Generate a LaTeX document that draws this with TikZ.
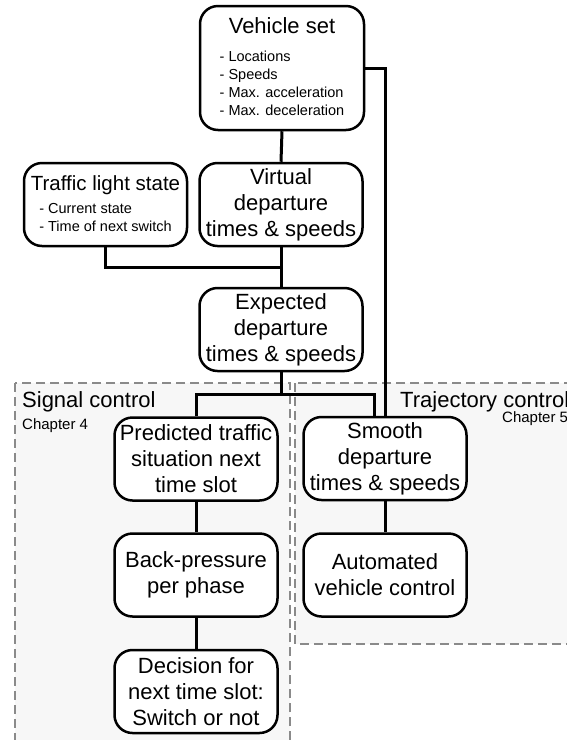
\documentclass[tikz,border=0pt]{standalone}
\usepackage{fontspec}
\setmainfont{Liberation Sans}
\usetikzlibrary{calc}
\definecolor{regionfill}{HTML}{F7F7F7}
\definecolor{regionline}{HTML}{8A8A8A}
\newcommand\itemfont{\fontsize{14.5}{18}\selectfont}
\newcommand\chapfont{\fontsize{15}{18}\selectfont}
\tikzset{
  box/.style={draw, line width=2.5pt, rounded corners=18pt, fill=white,
    minimum width=163pt, minimum height=83pt, inner sep=0pt, align=center,
    font=\fontsize{22}{26}\selectfont},
  link/.style={line width=3pt},
  region/.style={fill=regionfill, draw=regionline, line width=2pt,
    dash pattern=on 9pt off 5pt},
  regiontitle/.style={anchor=base west, inner sep=0pt,
    font=\fontsize{22}{26}\selectfont},
  chapter/.style={anchor=base west, inner sep=0pt, font=\chapfont}
}
\begin{document}
\begin{tikzpicture}[x=1pt,y=-1pt]
  \useasboundingbox (0,0) rectangle (567,740);
  \clip (0,0) rectangle (567,740);
  \draw[region] (15,383) rectangle (290,760);
  \draw[region] (295,383) rectangle (600,644);
  \node[regiontitle] (sigtitle) at (22,407) {Signal control};
  \node[chapter] (sigchap) at (22,429) {Chapter 4};
  \node[regiontitle] (trajtitle) at (400,407) {Trajectory control};
  \node[chapter] (trajchap) at (502,422) {Chapter 5};

  \node[box, minimum width=164pt, minimum height=124pt] (vehicle) at (282,68)
    {\begin{tabular}{@{}c@{}}Vehicle set\\[2pt]
     \itemfont\begin{tabular}[t]{@{}l@{}}- Locations\\- Speeds\\- Max. acceleration\\- Max. deceleration\end{tabular}\end{tabular}};
  \node[box] (traffic) at (105.5,204.5)
    {\begin{tabular}{@{}c@{}}{\fontsize{20.5}{25}\selectfont Traffic light state}\\[-3pt]
     \itemfont\begin{tabular}[t]{@{}l@{}}- Current state\\- Time of next switch\end{tabular}\end{tabular}};
  \node[box] (virtual) at (281,204.5) {Virtual\\departure\\times \& speeds};
  \node[box] (expected) at (281,329.5) {Expected\\departure\\times \& speeds};
  \node[box] (predicted) at (196,459) {Predicted traffic\\situation next\\time slot};
  \node[box] (smooth) at (385,458.5) {Smooth\\departure\\times \& speeds};
  \node[box] (backp) at (196,575) {Back-pressure\\per phase};
  \node[box] (automated) at (385,575) {Automated\\vehicle control};
  \node[box] (decision) at (196,691.5) {Decision for\\next time slot:\\Switch or not};

  \coordinate (merge) at ($(virtual.south)!0.5!(expected.north)$);
  \coordinate (split) at ($(expected.south)!0.5!(expected.south |- predicted.north)$);
  \draw[link] (vehicle.south) -- (virtual.north);
  \draw[link] (vehicle.east) -| (smooth.north);
  \draw[link] (virtual.south) -- (expected.north);
  \draw[link] (traffic.south) |- (merge);
  \draw[link] (expected.south) -- (split);
  \draw[link] (predicted.north) |- (split) -| ([xshift=-11pt]smooth.north);
  \draw[link] (predicted.south) -- (backp.north);
  \draw[link] (backp.south) -- (decision.north);
  \draw[link] (smooth.south) -- (automated.north);
\end{tikzpicture}
\end{document}
